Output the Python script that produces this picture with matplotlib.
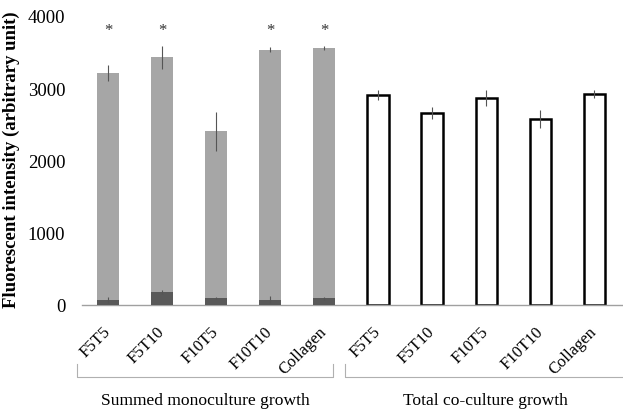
import numpy as np
import matplotlib.pyplot as plt
import matplotlib.transforms as mtransforms

plt.rcParams['font.family'] = ['Liberation Serif', 'DejaVu Serif']

# data
groups = ['F5T5', 'F5T10', 'F10T5', 'F10T10', 'Collagen']
mono_total = [3210, 3430, 2405, 3535, 3555]
mono_total_err = [110, 160, 270, 30, 30]
mono_dark = [65, 176, 93, 73, 95]
mono_dark_err = [40, 30, 15, 50, 20]
coculture = [2910, 2660, 2870, 2580, 2925]
coculture_err = [70, 85, 110, 125, 55]
significant = [True, True, False, True, True]

fig = plt.figure(figsize=(6.23, 4.14), dpi=100)
ax = fig.add_axes([0.1316, 0.261, 0.866, 0.698])

x1 = np.arange(5)
x2 = np.arange(5, 10)
w = 0.4
err_kw = dict(ecolor='#555555', elinewidth=0.8, capsize=0)

ax.bar(x1, mono_total, width=w, color='#a6a6a6', yerr=mono_total_err,
       error_kw=err_kw, zorder=2)
ax.bar(x1, mono_dark, width=w, color='#595959', yerr=mono_dark_err,
       error_kw=err_kw, zorder=3)
ax.bar(x2, coculture, width=w, color='white', edgecolor='black',
       linewidth=1.8, yerr=coculture_err, error_kw=err_kw, zorder=2)

for xi, sig in zip(x1, significant):
    if sig:
        ax.text(xi, 3800, '*', ha='center', va='center', fontsize=12,
                color='#333333')

ax.set_xlim(-0.48, 9.5)
ax.set_ylim(0, 4000)
ax.set_yticks([0, 1000, 2000, 3000, 4000])
ax.tick_params(axis='y', length=0, labelsize=13.5, pad=12)
ax.tick_params(axis='x', length=0, labelsize=12, pad=17)
ax.set_xticks(np.arange(10))
ax.set_xticklabels(groups + groups, rotation=45, ha='right', va='center',
                   rotation_mode='anchor')
for s in ['top', 'right', 'left']:
    ax.spines[s].set_visible(False)
ax.spines['bottom'].set_color('#a0a0a0')
ax.spines['bottom'].set_linewidth(1.0)
ax.set_ylabel('Fluorescent intensity (arbitrary unit)', fontsize=13.5,
              fontweight='bold')
ax.yaxis.set_label_coords(-0.115, 0.505)

# group brackets under the tick labels
trans = mtransforms.blended_transform_factory(ax.transData, ax.transAxes)
for xa, xb in [(-0.58, 4.17), (4.39, 9.8)]:
    ax.plot([xa, xa, xb, xb], [-0.204, -0.249, -0.249, -0.204], color='#b0b0b0',
            linewidth=0.8, transform=trans, clip_on=False)
ax.text(1.80, -0.329, 'Summed monoculture growth', ha='center', va='center',
        fontsize=12.6, transform=trans)
ax.text(6.99, -0.329, 'Total co-culture growth', ha='center', va='center',
        fontsize=12.6, transform=trans)

fig.savefig('out.png', dpi=100)
